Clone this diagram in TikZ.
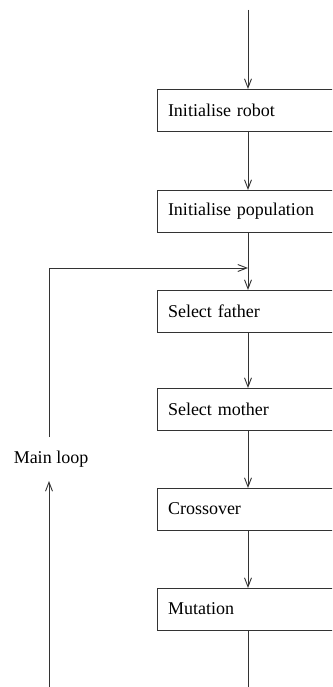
\documentclass[tikz,border=0pt]{standalone}
\usepackage{fontspec}
\setmainfont{Liberation Serif}
\usetikzlibrary{arrows.meta}
\begin{document}
\begin{tikzpicture}[x=1pt,y=-1pt,
  every node/.style={font=\fontsize{18}{20}\selectfont},
  stepbox/.style={draw=black!80, line width=0.9pt, rectangle, anchor=north west,
    minimum height=42pt, text width=178pt, inner xsep=11pt, inner ysep=0pt,
    align=left, outer sep=0pt},
  conn/.style={draw=black!80, line width=0.9pt},
  arr/.style={conn, -{Straight Barb[length=9pt,width=7pt,line width=0.9pt]}}]
\clip (0,0) rectangle (332,687);
\fill[white] (0,0) rectangle (332,687);
\coordinate (top) at (248,10);
\coordinate (bot) at (248,687);
\node[stepbox] (b1) at (157,89) {Initialise robot};
\node[stepbox] (b2) at (157,190) {Initialise population};
\node[stepbox] (b3) at (157,290) {Select father};
\node[stepbox] (b4) at (157,388) {Select mother};
\node[stepbox] (b5) at (157,488) {Crossover};
\node[stepbox] (b6) at (157,588) {Mutation};
\coordinate (join) at (248,268);
\coordinate (lt) at (49,268);
\coordinate (lb) at (49,687);
\coordinate (lu) at (49,437);
\coordinate (ll) at (49,481);
\node[inner sep=0pt] (ml) at (51,459) {Main loop};
\draw[arr] (top) -- (b1.north -| top);
\draw[arr] (b1.south -| top) -- (b2.north -| top);
\draw[arr] (b2.south -| top) -- (b3.north -| top);
\draw[arr] (b3.south -| top) -- (b4.north -| top);
\draw[arr] (b4.south -| top) -- (b5.north -| top);
\draw[arr] (b5.south -| top) -- (b6.north -| top);
\draw[conn] (b6.south -| top) -- (bot);
\draw[arr] (lb) -- (ll);
\draw[arr] (lu) -- (lt) -- (join);
\end{tikzpicture}
\end{document}
